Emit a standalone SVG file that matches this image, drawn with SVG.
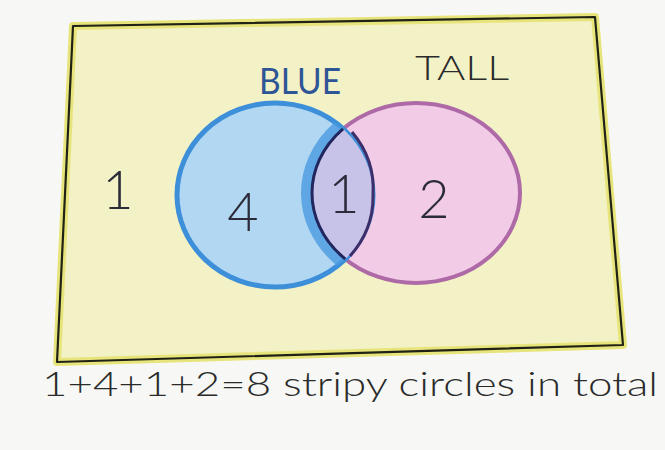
<svg xmlns="http://www.w3.org/2000/svg" width="665" height="450" viewBox="0 0 665 450">
<defs>
<style>
.hand{font-family:"Lato","Liberation Sans",sans-serif;font-weight:300}
.lab{font-family:"Lato","Liberation Sans",sans-serif;font-weight:400}
.num{font-size:54px;fill:#2b2b3a}
</style>
<clipPath id="blueClip"><ellipse cx="275" cy="195" rx="98" ry="92"/></clipPath>
</defs>
<rect width="665" height="450" fill="#f7f8f5"/>
<g id="universe">
<path d="M73,26 L595,17 L623,345 L57,362 Z" fill="#f3f1c6" stroke="#e8e47c" stroke-width="8" stroke-linejoin="round"/>
<path d="M73,26 L595,17 L623,345 L57,362 Z" fill="none" stroke="#1f2214" stroke-width="2.2" stroke-linejoin="round"/>
</g>
<g id="tall">
<ellipse cx="416" cy="193" rx="104" ry="90" fill="#f2cbe7" stroke="#ad6aa6" stroke-width="4"/>
</g>
<g id="blue">
<ellipse cx="275" cy="195" rx="98" ry="92" fill="#b2d7f2" stroke="#3d8fd9" stroke-width="5"/>
</g>
<g id="intersection">
<ellipse cx="416" cy="193" rx="104" ry="90" fill="#c6c2e8" clip-path="url(#blueClip)"/>
<ellipse cx="416" cy="193" rx="110" ry="95" fill="none" stroke="#4a9be0" stroke-width="10" clip-path="url(#blueClip)" opacity="0.8"/>
<ellipse cx="416" cy="193" rx="104" ry="90" fill="none" stroke="#22265e" stroke-width="3" clip-path="url(#blueClip)"/>
<path d="M373,195 A98,92 0 0 0 352,132" fill="none" stroke="#3d2f6a" stroke-width="3"/>
<path d="M373,195 A98,92 0 0 1 350,256" fill="none" stroke="#3d2f6a" stroke-width="3"/>
</g>
<g id="labels">
<text class="lab" x="300" y="94" font-size="36" fill="#2e5596" text-anchor="middle" textLength="82" lengthAdjust="spacingAndGlyphs">BLUE</text>
<text class="hand" x="462" y="80" font-size="34" fill="#2a2a2a" text-anchor="middle" textLength="94" lengthAdjust="spacingAndGlyphs">TALL</text>
<text class="hand num" x="118" y="209" text-anchor="middle">1</text>
<text class="hand num" x="243" y="231" text-anchor="middle" fill="#3a5a90">4</text>
<text class="hand num" x="344" y="213" text-anchor="middle">1</text>
<text class="hand num" x="434" y="218" text-anchor="middle" fill="#4a2a52">2</text>
<text class="hand" x="42" y="396" font-size="34" fill="#2a2a2a" textLength="616" lengthAdjust="spacingAndGlyphs">1+4+1+2=8 stripy circles in total</text>
</g>
</svg>
